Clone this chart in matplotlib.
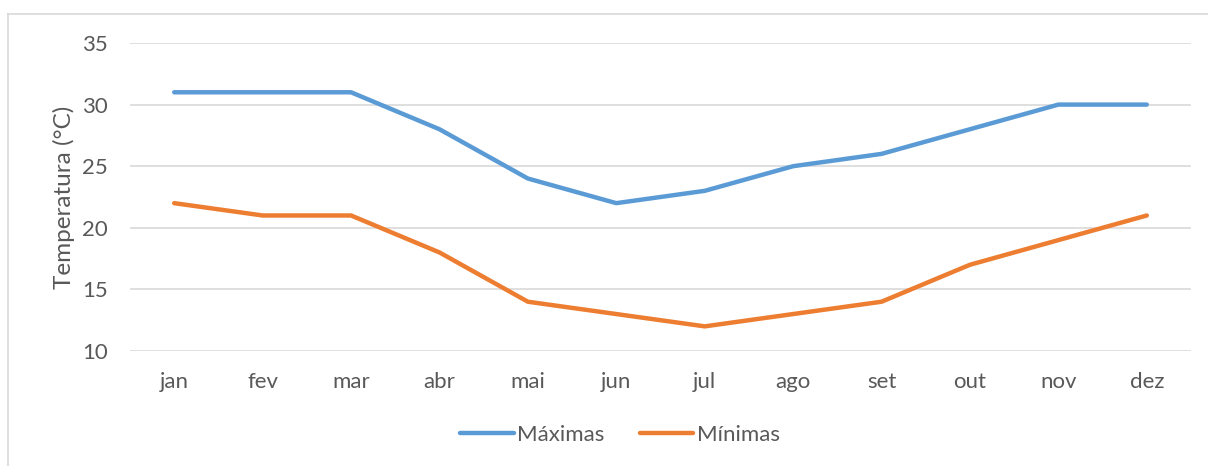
import matplotlib
matplotlib.use("Agg")
import matplotlib.pyplot as plt
from matplotlib.lines import Line2D

months = ["jan", "fev", "mar", "abr", "mai", "jun", "jul", "ago", "set", "out", "nov", "dez"]
maximas = [31, 31, 31, 28, 24, 22, 23, 25, 26, 28, 30, 30]
minimas = [22, 21, 21, 18, 14, 13, 12, 13, 14, 17, 19, 21]
yticks = [10, 15, 20, 25, 30, 35]

plt.rcParams['font.family'] = ['Lato', 'DejaVu Sans']
txt = '#595959'
W, H = 1208, 466
fig = plt.figure(figsize=(W / 100, H / 100), dpi=100)

# outer frame (top and left visible)
fig.add_artist(Line2D([8 / W, 8 / W], [0, 1 - 14 / H], transform=fig.transFigure, color='#D9D9D9', lw=1.2))
fig.add_artist(Line2D([8 / W, 1], [1 - 14 / H, 1 - 14 / H], transform=fig.transFigure, color='#D9D9D9', lw=1.2))

ax = fig.add_axes([130 / W, 1 - 351 / H, (1191 - 130) / W, (351 - 43) / H])
x = list(range(len(months)))
ax.plot(x, maximas, color='#5B9BD5', lw=3.2, solid_capstyle='round', solid_joinstyle='round', label='Máximas')
ax.plot(x, minimas, color='#ED7D31', lw=3.2, solid_capstyle='round', solid_joinstyle='round', label='Mínimas')
ax.set_xlim(-0.5, len(months) - 0.5)
ax.set_ylim(10, 35)
ax.set_yticks(yticks)
ax.set_xticks(x)
ax.set_xticklabels(months)
ax.grid(axis='y', color='#D9D9D9', lw=1.2)
ax.set_axisbelow(True)
for s in ax.spines.values():
    s.set_visible(False)
ax.tick_params(axis='both', length=0, labelsize=16, colors=txt)
ax.tick_params(axis='y', pad=16)
ax.tick_params(axis='x', pad=15)
ax.set_ylabel('Temperatura (°C)', fontsize=17.5, color=txt, labelpad=5)

leg = fig.legend(loc='center', bbox_to_anchor=(620 / W, 1 - 435 / H), ncol=2, frameon=False,
                 fontsize=16, handlelength=2.4, handletextpad=0.15, columnspacing=1.6,
                 labelcolor=txt)
fig.savefig('out.png', dpi=100)
